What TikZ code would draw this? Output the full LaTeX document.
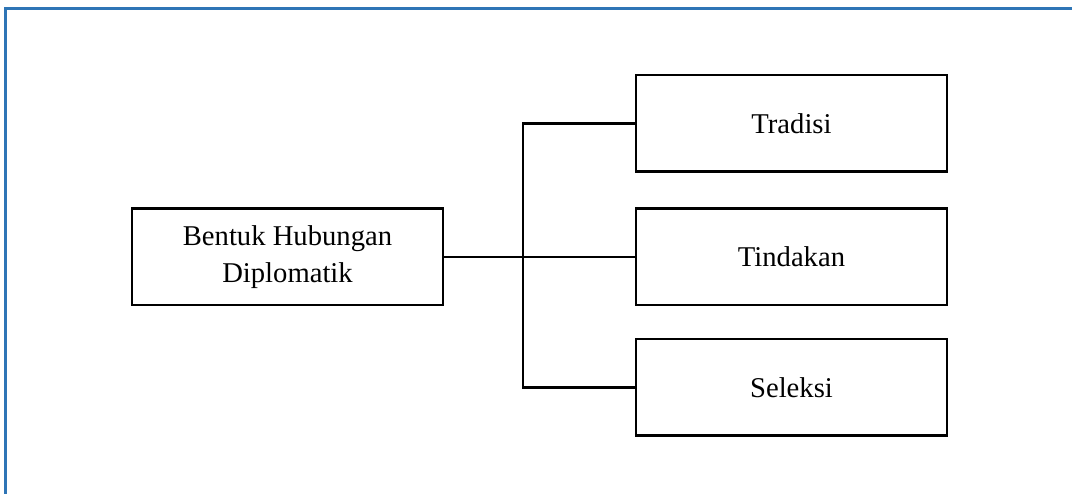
\documentclass[tikz,border=0pt]{standalone}
\usepackage{fontspec}
\setmainfont{Liberation Serif}
\definecolor{frameblue}{RGB}{46,117,182}
\begin{document}
\begin{tikzpicture}[
        box/.style = {draw, line width = 0.05cm, minimum width = 6.22cm, minimum height = 1.93cm, inner sep = 0pt, align = center, font = \fontsize{16.3}{20.8}\selectfont},
        link/.style = {line width = 0.05cm}
    ]
        \useasboundingbox (0, 0) rectangle (21.44, -9.88);
        \draw[frameblue, line width = 0.06cm] (0.11, -9.88) -- (0.11, -0.17) -- (21.44, -0.17);
        \node[box] (bentuk) at (5.75, -5.14) {Bentuk Hubungan\\Diplomatik};
        \node[box] (tradisi) at (15.83, -2.47) {Tradisi};
        \node[box] (tindakan) at (15.83, -5.14) {Tindakan};
        \node[box] (seleksi) at (15.83, -7.75) {Seleksi};
        \coordinate (trunk) at (10.46, -5.14);
        \draw[link] (bentuk.east) -- (tindakan.west);
        \draw[link] (tradisi.west) -- (tradisi.west -| trunk) -- (seleksi.west -| trunk) -- (seleksi.west);
  \end{tikzpicture}
\end{document}
